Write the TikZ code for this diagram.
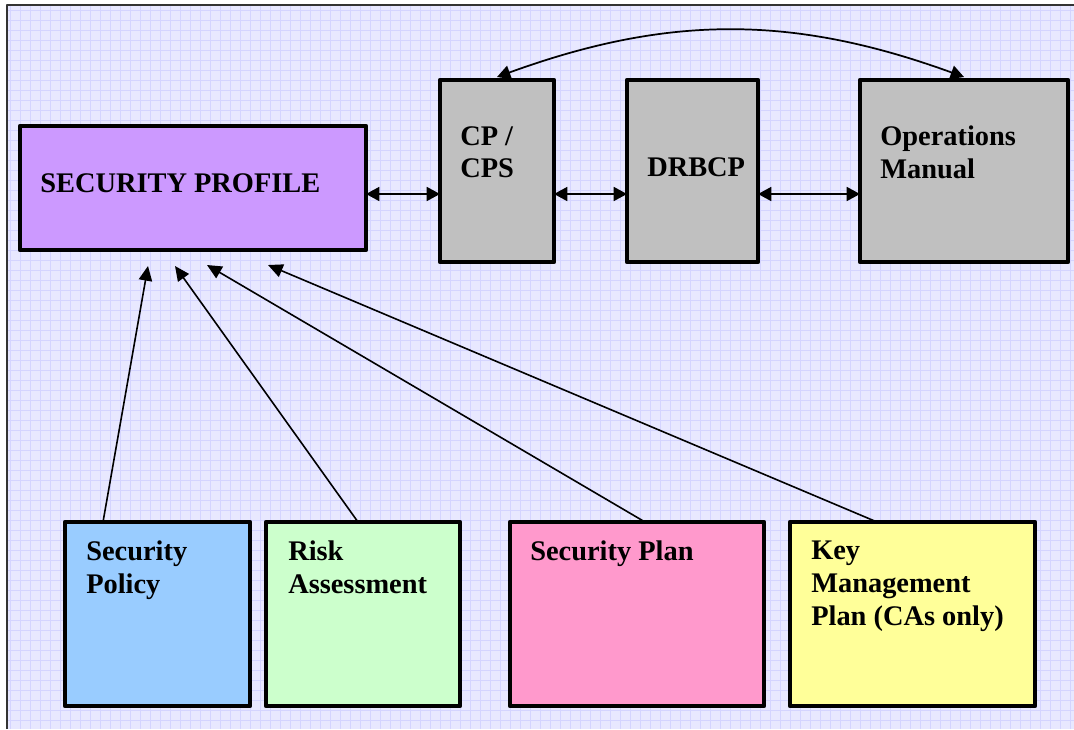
\documentclass[tikz,border=0pt]{standalone}
\usepackage{fontspec}
\setmainfont{Liberation Serif}
\usetikzlibrary{arrows.meta, calc}

\definecolor{paper}{RGB}{232,232,255}
\definecolor{gridc}{RGB}{212,212,255}
\definecolor{profc}{RGB}{204,153,255}
\definecolor{docc}{RGB}{192,192,192}
\definecolor{polc}{RGB}{153,204,255}
\definecolor{riskc}{RGB}{204,255,204}
\definecolor{planc}{RGB}{255,153,204}
\definecolor{keyc}{RGB}{255,255,153}

\tikzset{
	box/.style={draw, line width=3.4pt, inner sep=0pt, outer sep=0pt, anchor=north west},
	sz/.style 2 args={minimum width=#1*0.75pt, minimum height=#2*0.75pt},
	txt/.style={font=\bfseries\fontsize{21.3}{24.5}\selectfont, align=left, anchor=north west, inner sep=0pt},
	link/.style={line width=1.2pt, -{Triangle[length=11pt, width=10pt]}},
	dbl/.style={line width=1.3pt, {Triangle[length=10pt, width=10.5pt]}-{Triangle[length=10pt, width=10.5pt]}}
}

\begin{document}
\begin{tikzpicture}[x=0.75pt, y=-0.75pt, line join=round]
		
		\useasboundingbox (0,0) rectangle (1074,729);
		
		% 1. Background paper with grid
		\fill[paper] (7,5) rectangle (1074,729);
		\draw[gridc, line width=0.4pt, step=7.5pt] (7,5) grid (1074,729);
		\draw[line width=1.2pt, black!80] (7,729) -- (7,5) -- (1074,5);
		
		% 2. Boxes
		\node[box, sz={346}{124}, fill=profc] (prof) at (20,126) {};
		\node[box, sz={114}{182}, fill=docc] (cp) at (440,80) {};
		\node[box, sz={131}{182}, fill=docc] (drb) at (627,80) {};
		\node[box, sz={208}{182}, fill=docc] (ops) at (860,80) {};
		
		\node[box, sz={185}{184}, fill=polc] (pol) at (65,522) {};
		\node[box, sz={194}{184}, fill=riskc] (risk) at (266,522) {};
		\node[box, sz={254}{184}, fill=planc] (plan) at (510,522) {};
		\node[box, sz={245}{184}, fill=keyc] (key) at (790,522) {};
		
		% 3. Labels
		\node[txt] (profT) at ($(prof.north west)+(20,47)$) {SECURITY PROFILE};
		\node[txt] (cpT) at ($(cp.north west)+(20,46)$) {CP /\\CPS};
		\node[txt] (drbT) at ($(drb.north west)+(20,77)$) {DRBCP};
		\node[txt] (opsT) at ($(ops.north west)+(20,46)$) {Operations\\Manual};
		\node[txt] (polT) at ($(pol.north west)+(21,19)$) {Security\\Policy};
		\node[txt] (riskT) at ($(risk.north west)+(22,19)$) {Risk\\Assessment};
		\node[txt] (planT) at ($(plan.north west)+(20,19)$) {Security Plan};
		\node[txt] (keyT) at ($(key.north west)+(21,19)$) {Key\\Management\\Plan (CAs only)};
		
		% 4. Links between the documents
		\coordinate (hy) at (0,194);
		\draw[dbl] (prof.east |- hy) -- (cp.west |- hy);
		\draw[dbl] (cp.east |- hy) -- (drb.west |- hy);
		\draw[dbl] (drb.east |- hy) -- (ops.west |- hy);
		\draw[dbl] ($(cp.north)+(0,-3)$) to[bend left=20] ($(ops.north)+(0,-3)$);
		
		% 5. Inputs to the security profile
		\coordinate (polIn) at ($(pol.north west)+(38,0)$);
		\coordinate (riskIn) at ($(risk.north west)+(92,0)$);
		\coordinate (planIn) at ($(plan.north west)+(135,0)$);
		\coordinate (keyIn) at ($(key.north west)+(87,0)$);
		\coordinate (polTo) at ($(prof.south west)+(128,16)$);
		\coordinate (riskTo) at ($(prof.south west)+(155,16)$);
		\coordinate (planTo) at ($(prof.south west)+(187,15)$);
		\coordinate (keyTo) at ($(prof.south west)+(248,15)$);
		\draw[link] (polIn) -- (polTo);
		\draw[link] (riskIn) -- (riskTo);
		\draw[link] (planIn) -- (planTo);
		\draw[link] (keyIn) -- (keyTo);
		
	\end{tikzpicture}
\end{document}
